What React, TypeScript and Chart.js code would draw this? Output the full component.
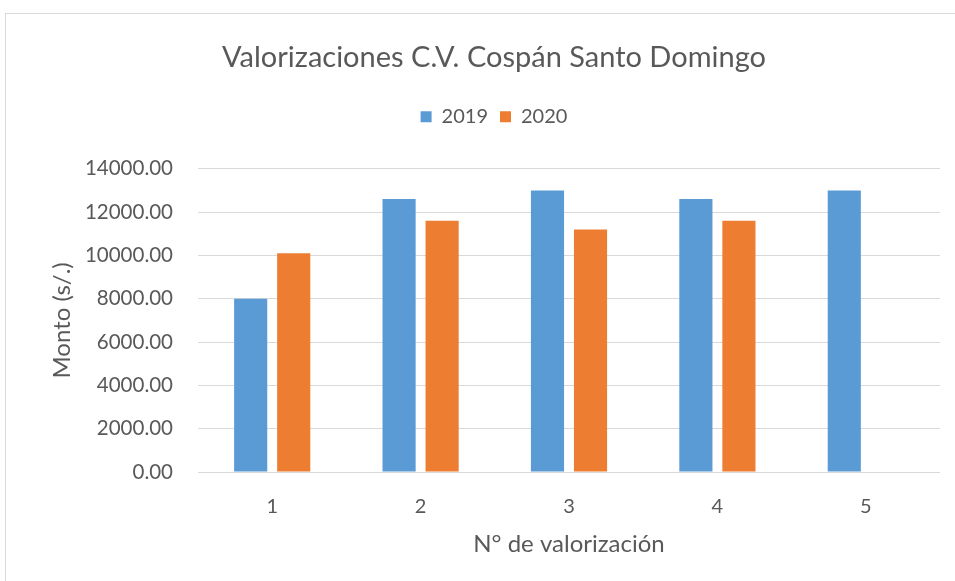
import React, { useEffect, useRef } from "react";
import { Chart, registerables } from "chart.js";

Chart.register(...registerables);

const categories = ["1", "2", "3", "4", "5"];
const series2019 = [8000, 12600, 13000, 12600, 13000];
const series2020 = [10100, 11600, 11200, 11600, null];
const seriesLabels = ["2019", "2020"];
const yTicks = { min: 0, max: 14000, step: 2000 };
const titleText = "Valorizaciones C.V. Cospán Santo Domingo";
const xTitle = "N° de valorización";
const yTitle = "Monto (s/.)";

const FONT = "Lato, 'Open Sans', sans-serif";
const TEXT = "#595959";

const framePlugin = {
  id: "frame",
  beforeDraw(chart: any) {
    const ctx = chart.ctx;
    ctx.save();
    ctx.fillStyle = "#ffffff";
    ctx.fillRect(0, 0, chart.width, chart.height);
    ctx.strokeStyle = "#d9d9d9";
    ctx.lineWidth = 1;
    ctx.strokeRect(5.5, 13.5, chart.width + 10, chart.height + 10);
    ctx.restore();
  },
};

export default function App() {
  const ref = useRef<HTMLCanvasElement | null>(null);
  useEffect(() => {
    document.body.style.margin = "0";
    document.body.style.overflow = "hidden";
    const chart = new Chart(ref.current as HTMLCanvasElement, {
      type: "bar",
      data: {
        labels: categories,
        datasets: [
          {
            label: seriesLabels[0],
            data: series2019,
            backgroundColor: "#5B9BD5",
            categoryPercentage: 0.58,
            barPercentage: 0.77,
          },
          {
            label: seriesLabels[1],
            data: series2020 as any,
            backgroundColor: "#ED7D31",
            categoryPercentage: 0.58,
            barPercentage: 0.77,
          },
        ],
      },
      options: {
        animation: false,
        responsive: false,
        devicePixelRatio: 1,
        layout: { padding: { top: 40, left: 48, right: 15, bottom: 22 } },
        plugins: {
          title: {
            display: true,
            text: titleText,
            color: TEXT,
            font: { family: FONT, size: 29, weight: "normal" },
            padding: { top: 0, bottom: 20 },
          },
          subtitle: {
            display: true,
            text: " ",
            weight: 500,
            font: { family: FONT, size: 10 },
            padding: { top: 0, bottom: 20 },
          } as any,
          legend: {
            display: true,
            labels: {
              color: TEXT,
              font: { family: FONT, size: 20 },
              boxWidth: 11,
              boxHeight: 11,
              padding: 12,
            },
          },
          tooltip: { enabled: false },
        },
        scales: {
          x: {
            grid: { display: false, drawTicks: false },
            border: { display: false },
            afterFit: (s: any) => {
              s.height = 87;
            },
            ticks: {
              color: TEXT,
              font: { family: FONT, size: 20 },
              padding: 23,
            },
            title: {
              display: true,
              text: xTitle,
              color: TEXT,
              font: { family: FONT, size: 24 },
              padding: { top: 0, bottom: 0 },
            },
          },
          y: {
            min: yTicks.min,
            max: yTicks.max,
            grid: { color: "#d9d9d9", drawTicks: false },
            border: { display: false },
            afterFit: (s: any) => {
              s.width = 150;
            },
            ticks: {
              stepSize: yTicks.step,
              color: TEXT,
              font: { family: FONT, size: 20.5 },
              padding: 25,
              callback: (v: any) => Number(v).toFixed(2),
            },
            title: {
              display: true,
              text: yTitle,
              color: TEXT,
              font: { family: FONT, size: 24 },
              padding: { top: 0, bottom: 0 },
            },
          },
        },
      },
      plugins: [framePlugin],
    });
    return () => chart.destroy();
  }, []);
  return <canvas ref={ref} width={955} height={581} style={{ display: "block" }} />;
}
